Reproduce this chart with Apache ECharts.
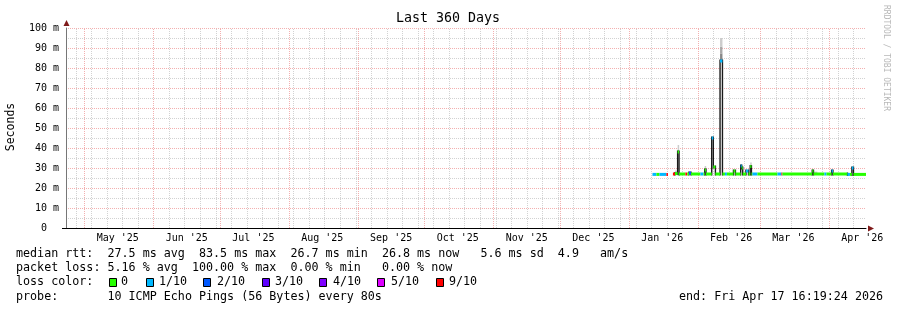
<!DOCTYPE html>
<html><head><meta charset="utf-8">
<script src="https://cdn.jsdelivr.net/npm/echarts@6/dist/echarts.min.js"></script>
<style>html,body{margin:0;padding:0;background:#fff}#c{width:897px;height:310px}</style>
</head><body><div id="c"></div>
<script>
const MONO = '"DejaVu Sans Mono", monospace';
const chartTitle = 'Last 360 Days';
const yAxisName = 'Seconds';
const watermark = 'RRDTOOL / TOBI OETIKER';
const axisStart = '2025-04-22T16:19:24';
const axisEnd = '2026-04-17T16:19:24';
const yTicks = [0, 10, 20, 30, 40, 50, 60, 70, 80, 90, 100];
const monthStarts = ['2025-05-01','2025-06-01','2025-07-01','2025-08-01','2025-09-01','2025-10-01',
  '2025-11-01','2025-12-01','2026-01-01','2026-02-01','2026-03-01','2026-04-01'];
const monthMids = ['2025-05-16','2025-06-16','2025-07-16','2025-08-16','2025-09-16','2025-10-16',
  '2025-11-16','2025-12-16','2026-01-16','2026-02-16','2026-03-16','2026-04-16'];
const monthLabels = ["May '25","Jun '25","Jul '25","Aug '25","Sep '25","Oct '25",
  "Nov '25","Dec '25","Jan '26","Feb '26","Mar '26","Apr '26"];
const firstWeekLine = '2025-04-27';

// median RTT, step segments: segment i runs from medTimes[i] to medTimes[i+1]
const medTimes = [
 '2026-01-11T14:00','2026-01-13T09:00','2026-01-14T17:30','2026-01-17T21:00','2026-01-18T13:00',
 '2026-01-20T19:00','2026-01-21T17:00','2026-01-22T22:00','2026-01-23T13:00','2026-01-26T10:00',
 '2026-01-27T06:00','2026-01-28T00:00','2026-01-28T22:00','2026-02-02T04:00','2026-02-03T13:00',
 '2026-02-04T02:00','2026-02-04T16:00','2026-02-07T06:00','2026-02-07T23:30','2026-02-08T22:00',
 '2026-02-11T00:00','2026-02-12T02:00','2026-02-13T05:00','2026-02-14T02:00','2026-02-17T01:00',
 '2026-02-17T22:00','2026-02-20T07:00','2026-02-20T18:00','2026-02-21T05:00','2026-02-22T16:00',
 '2026-02-23T19:00','2026-02-24T14:00','2026-02-25T03:00','2026-02-25T14:00','2026-02-27T20:00',
 '2026-03-08T20:00','2026-03-10T15:00','2026-03-11T02:00','2026-03-24T12:00','2026-03-25T01:00',
 '2026-03-29T23:30','2026-03-30T21:00','2026-04-02T05:00','2026-04-02T19:00','2026-04-09T08:00',
 '2026-04-10T11:00','2026-04-11T08:00','2026-04-12T01:00','2026-04-17T16:19:24'];
const medValues = [
 26.8, 26.8, 26.8, 26.8, null,
 27.0, 27.2, 38.0, 27.0, 27.0,
 27.0, 27.5, 27.0, 27.0, 27.0,
 29.0, 27.0, 45.0, 30.5, 27.0,
 83.5, 27.0, 27.0, 27.0, 28.5,
 27.0, 31.0, 30.0, 27.0, 28.5,
 27.0, 30.7, 27.0, 27.0, 27.0,
 27.0, 27.0, 27.0, 28.5, 27.0,
 27.0, 27.0, 28.5, 27.0, 26.8,
 26.8, 30.0, 26.8];
const medLoss = [
 1, 0, 1, 9, 0,
 9, 0, 0, 0, 9,
 0, 2, 0, 1, 0,
 0, 0, 1, 0, 0,
 1, 0, 1, 0, 0,
 0, 1, 0, 0, 1,
 0, 0, 0, 1, 0,
 1, 9, 0, 0, 0,
 1, 0, 1, 0, 1,
 0, 1, 0];

// smoke (spread of pings)
const smokeStart = ['2026-01-21T17:00','2026-01-22T22:00','2026-02-04T02:00','2026-02-11T00:00','2026-02-11T00:00','2026-02-11T00:00','2026-02-24T14:00','2026-03-25T01:00'];
const smokeEnd   = ['2026-01-22T22:00','2026-01-23T13:00','2026-02-04T16:00','2026-02-12T02:00','2026-02-12T02:00','2026-02-12T02:00','2026-02-25T03:00','2026-03-26T19:00'];
const smokeLow   = [27.2, 38.0, 29.0, 83.5, 87.3, 90.7, 30.7, 27.0];
const smokeHigh  = [28.7, 41.5, 31.0, 87.3, 90.7, 95.0, 32.8, 28.2];
const smokeShade = [0, 0, 0, 2, 1, 0, 0, 0];
const smokeColors = ['#cccccc', '#a8a8a8', '#888888'];

const lossKeys = [0, 1, 2, 3, 4, 5, 9];
const lossLabels = ['0', '1/10', '2/10', '3/10', '4/10', '5/10', '9/10'];
const lossColors = ['#26ff00', '#00b8ff', '#0059ff', '#5e00ff', '#7e00ff', '#dd00ff', '#ff0000'];

const lineMedian = 'median rtt:  27.5 ms avg  83.5 ms max  26.7 ms min  26.8 ms now   5.6 ms sd  4.9   am/s';
const lineLoss   = 'packet loss: 5.16 % avg  100.00 % max  0.00 % min   0.00 % now';
const lineColorHead = 'loss color:';
const lineProbe  = 'probe:       10 ICMP Echo Pings (56 Bytes) every 80s';
const lineEnd    = 'end: Fri Apr 17 16:19:24 2026';

const T = s => new Date(s).getTime();
const tStart = T(axisStart), tEnd = T(axisEnd);
const monthMidTs = monthMids.map(T);

// vertical grid: weekly minor (gray) then monthly major (red)
const vgrid = [];
for (let t = T(firstWeekLine); t < tEnd; t += 7 * 86400000) vgrid.push([t, 0]);
monthStarts.forEach(s => vgrid.push([T(s), 1]));

const medData = [], stepData = [];
for (let i = 0; i < medValues.length; i++) {
  if (medValues[i] === null) continue;
  medData.push([T(medTimes[i]), T(medTimes[i + 1]), medValues[i], lossKeys.indexOf(medLoss[i])]);
  if (i > 0 && medValues[i - 1] !== null && medValues[i - 1] !== medValues[i]) {
    stepData.push([T(medTimes[i]), medValues[i - 1], medValues[i]]);
  }
}
const smokeData = smokeStart.map((s, i) => [T(s), T(smokeEnd[i]), smokeLow[i], smokeHigh[i], smokeShade[i]]);

const chart = echarts.init(document.getElementById('c'), null, {renderer: 'canvas'});

const txt = (x, y, text, opts = {}) => Object.assign({
  type: 'text', x, y, silent: true,
  style: Object.assign({text, font: '11.7px ' + MONO, fill: '#000', align: 'left', verticalAlign: 'middle'}, opts.style || {})
}, opts.el || {});

const MAJOR = '#f3b0b0', MINOR = '#d2d2d2';

const graphics = [
  txt(448, 19, chartTitle, {style: {font: '13.3px ' + MONO, align: 'center'}}),
  txt(11, 127, yAxisName, {style: {font: '11.5px ' + MONO, align: 'center'}, el: {rotation: Math.PI / 2}}),
  txt(886, 58, watermark, {style: {font: '8px ' + MONO, align: 'center', fill: '#b8b8b8'}, el: {rotation: -Math.PI / 2}}),
  txt(16, 254, lineMedian),
  txt(16, 268, lineLoss),
  txt(16, 282, lineColorHead),
  txt(16, 297, lineProbe),
  txt(679, 297, lineEnd),
  {type: 'polygon', silent: true, shape: {points: [[66.5, 20], [63.5, 26], [69.5, 26]]}, style: {fill: '#7f1a1a'}},
  {type: 'polygon', silent: true, shape: {points: [[874, 228.5], [868, 225.5], [868, 231.5]]}, style: {fill: '#7f1a1a'}},
  {type: 'line', silent: true, shape: {x1: 62, y1: 228.5, x2: 67, y2: 228.5}, style: {stroke: '#000', lineWidth: 1}}
];
const boxX = [109, 146, 203, 262, 319, 377, 436];
const labX = [121, 159, 217, 275, 333, 391, 449];
lossLabels.forEach((l, i) => {
  graphics.push({type: 'rect', silent: true, shape: {x: boxX[i] + 0.5, y: 278.5, width: 7, height: 8}, style: {fill: lossColors[i], stroke: '#000', lineWidth: 1}});
  graphics.push(txt(labX[i], 282, l));
});

chart.setOption({
  animation: false,
  backgroundColor: '#fff',
  grid: {left: 66, right: 31, top: 28, bottom: 82, containLabel: false},
  xAxis: {
    type: 'value', min: tStart, max: tEnd,
    axisLine: {show: true, onZero: false, lineStyle: {color: '#000', width: 1}},
    axisTick: {show: false},
    splitLine: {show: false},
    axisLabel: {
      customValues: monthMidTs, color: '#000', fontFamily: MONO, fontSize: 10, margin: 5,
      formatter: v => {
        let best = 0;
        monthMidTs.forEach((m, i) => { if (Math.abs(m - v) < Math.abs(monthMidTs[best] - v)) best = i; });
        return monthLabels[best];
      }
    }
  },
  yAxis: {
    type: 'value', min: 0, max: 100, interval: 10,
    axisLine: {show: true, lineStyle: {color: '#777', width: 1}},
    axisTick: {show: false},
    axisLabel: {customValues: yTicks, color: '#000', fontFamily: MONO, fontSize: 10, margin: 7,
      formatter: v => v === 0 ? '0  ' : v + ' m'},
    splitLine: {show: true, lineStyle: {color: MAJOR, type: [1, 1], width: 1}},
    minorTick: {show: false, splitNumber: 2},
    minorSplitLine: {show: true, lineStyle: {color: MINOR, type: [1, 1], width: 1}}
  },
  series: [
    {
      type: 'custom', name: 'vgrid', silent: true, z: 1, clip: true,
      encode: {x: 0},
      data: vgrid,
      renderItem: (params, api) => {
        const p0 = api.coord([api.value(0), 0]);
        const p1 = api.coord([api.value(0), 100]);
        const x = Math.round(p0[0]) + 0.5;
        return {type: 'line', shape: {x1: x, y1: p0[1], x2: x, y2: p1[1]},
          style: {stroke: api.value(1) ? MAJOR : MINOR, lineWidth: 1, lineDash: [1, 1]}};
      }
    },
    {
      type: 'custom', name: 'smoke', silent: true, z: 3,
      encode: {x: [0, 1], y: [2, 3]},
      data: smokeData,
      renderItem: (params, api) => {
        const a = api.coord([api.value(0), api.value(3)]);
        const b = api.coord([api.value(1), api.value(2)]);
        return {type: 'rect', shape: {x: a[0], y: a[1], width: Math.max(1.5, b[0] - a[0]), height: b[1] - a[1]},
          style: {fill: smokeColors[api.value(4)]}};
      }
    },
    {
      type: 'custom', name: 'steps', silent: true, z: 4,
      encode: {x: 0, y: [1, 2]},
      data: stepData,
      renderItem: (params, api) => {
        const a = api.coord([api.value(0), Math.max(api.value(1), api.value(2))]);
        const b = api.coord([api.value(0), Math.min(api.value(1), api.value(2))]);
        return {type: 'rect', shape: {x: a[0] - 0.7, y: a[1] - 1.5, width: 1.4, height: b[1] - a[1] + 3},
          style: {fill: '#1a1a1a'}};
      }
    },
    {
      type: 'custom', name: 'median', silent: true, z: 5,
      encode: {x: [0, 1], y: 2},
      data: medData,
      renderItem: (params, api) => {
        const a = api.coord([api.value(0), api.value(2)]);
        const b = api.coord([api.value(1), api.value(2)]);
        return {type: 'rect', shape: {x: a[0], y: a[1] - 1.5, width: b[0] - a[0], height: 3},
          style: {fill: lossColors[api.value(3)]}};
      }
    }
  ],
  graphic: graphics
});
</script></body></html>
